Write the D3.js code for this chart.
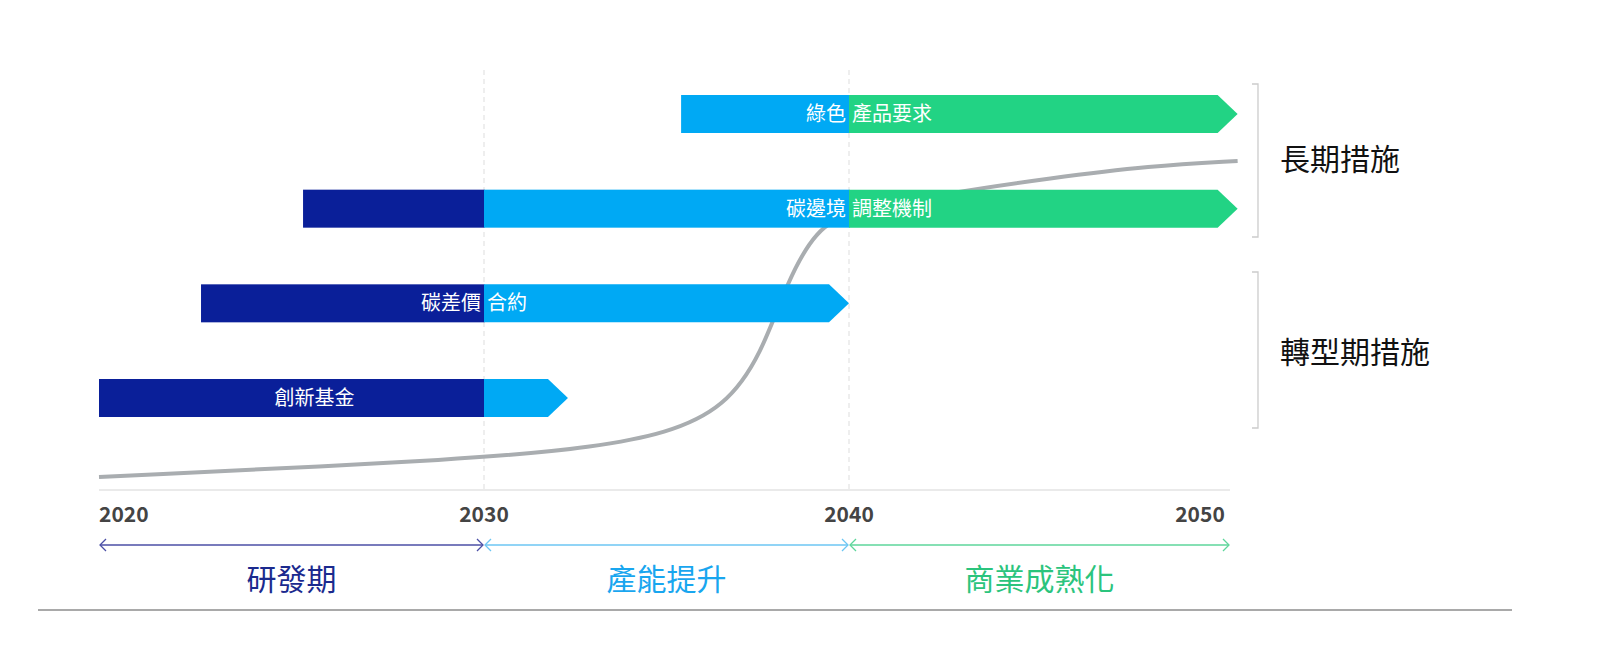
<!DOCTYPE html><html><head><meta charset="utf-8">
<script src="https://cdn.jsdelivr.net/npm/d3@7"></script>
<style>body{margin:0;background:#fff}text{font-family:"Noto Sans CJK TC","Noto Sans",sans-serif}</style></head><body>
<svg id="c" width="1600" height="646"></svg>
<script>
const years=[2020,2030,2040,2050];
const phases=["研發期","產能提升","商業成熟化"];
const groups=["長期措施","轉型期措施"];
const bars=[
 {row:0,segs:[[2035.4,2040,"lb"],[2040,2050.2,"g"]],left:"綠色",right:"產品要求",split:2040},
 {row:1,segs:[[2025.3,2030,"n"],[2030,2040,"lb"],[2040,2050.2,"g"]],left:"碳邊境",right:"調整機制",split:2040},
 {row:2,segs:[[2022.65,2030,"n"],[2030,2040,"lb"]],left:"碳差價",right:"合約",split:2030},
 {row:3,segs:[[2020,2030,"n"],[2030,2032.3,"lb"]],center:"創新基金",cx:2025.6}
];
const curveYears=[2020,2030,2033,2035,2036.6,2037.6,2038.3,2039.1,2040,2042.6,2045.3,2047.9,2050.2];
const curveVals=[0.9,6.4,10,14,22,38,60,76,81.2,87,91.5,95.2,96.7];
const col={n:"#0a1f99",lb:"#00a9f4",g:"#22d384"};
const svg=d3.select("#c");
const x=d3.scaleLinear().domain([2020,2030,2040,2050]).range([99,484,849,1230]);
const y=d3.scaleLinear().domain([0,100]).range([480,150]);
const rowY=d3.scalePoint().domain([0,1,2,3]).range([114,398]);
const bh=38, head=20;
[2030,2040].forEach(v=>svg.append("line").attr("x1",x(v)).attr("x2",x(v)).attr("y1",70).attr("y2",490).attr("stroke","#ddd").attr("stroke-dasharray","5,4"));
svg.append("path").datum(curveYears.map((d,i)=>[d,curveVals[i]])).attr("fill","none").attr("stroke","#a9adb0").attr("stroke-width",4)
 .attr("d",d3.line().x(d=>x(d[0])).y(d=>y(d[1])).curve(d3.curveBasis));
bars.forEach(b=>{
 const cy=rowY(b.row);
 b.segs.forEach((s,i)=>{
  const x0=x(s[0]),x1=x(s[1]);
  if(i===b.segs.length-1){
   svg.append("path").attr("fill",col[s[2]]).attr("d",`M${x0},${cy-bh/2}H${x1-head}L${x1},${cy}L${x1-head},${cy+bh/2}H${x0}Z`);
  } else svg.append("rect").attr("x",x0).attr("y",cy-bh/2).attr("width",x1-x0+0.5).attr("height",bh).attr("fill",col[s[2]]);
 });
 const t=svg.append("g").attr("fill","#fff").attr("font-size",20);
 if(b.center) t.append("text").attr("x",x(b.cx)).attr("y",cy+7).attr("text-anchor","middle").text(b.center);
 else{
  t.append("text").attr("x",x(b.split)-3).attr("y",cy+7).attr("text-anchor","end").text(b.left);
  t.append("text").attr("x",x(b.split)+3).attr("y",cy+7).text(b.right);
 }
});
svg.append("line").attr("x1",99).attr("x2",1230).attr("y1",490).attr("y2",490).attr("stroke","#e3e3e3").attr("stroke-width",1.5);
years.forEach((v,i)=>svg.append("text").attr("x",x(v)+(i==3?-30:0)).attr("y",522).attr("text-anchor",i==0?"start":"middle").attr("font-size",21).attr("font-weight",600).attr("fill","#444").attr("font-family","Open Sans").text(v));
const pc=["#4b4fa6","#6cc6f3","#5ed69b"], tc=["#1b2a8e","#19a6ef","#2bc47d"];
phases.forEach((p,i)=>{
 const a=x(years[i]),b=x(years[i+1]),yy=545;
 svg.append("line").attr("x1",a+1).attr("x2",b-1).attr("y1",yy).attr("y2",yy).attr("stroke",pc[i]).attr("stroke-width",1.3);
 svg.append("path").attr("fill","none").attr("stroke",pc[i]).attr("stroke-width",1.3).attr("d",`M${a+7},${yy-6}L${a+1},${yy}L${a+7},${yy+6}M${b-7},${yy-6}L${b-1},${yy}L${b-7},${yy+6}`);
 svg.append("text").attr("x",(a+b)/2).attr("y",590).attr("text-anchor","middle").attr("font-size",30).attr("fill",tc[i]).text(p);
});
svg.append("line").attr("x1",38).attr("x2",1512).attr("y1",610).attr("y2",610).attr("stroke","#555").attr("stroke-width",1.2);
[[84,237,170],[272,428,363]].forEach((r,i)=>{
 svg.append("path").attr("fill","none").attr("stroke","#ccc").attr("stroke-width",1.3).attr("d",`M1252,${r[0]}H1258V${r[1]}H1252`);
 svg.append("text").attr("x",1280).attr("y",r[2]).attr("font-size",30).attr("fill","#111").text(groups[i]);
});
</script></body></html>
